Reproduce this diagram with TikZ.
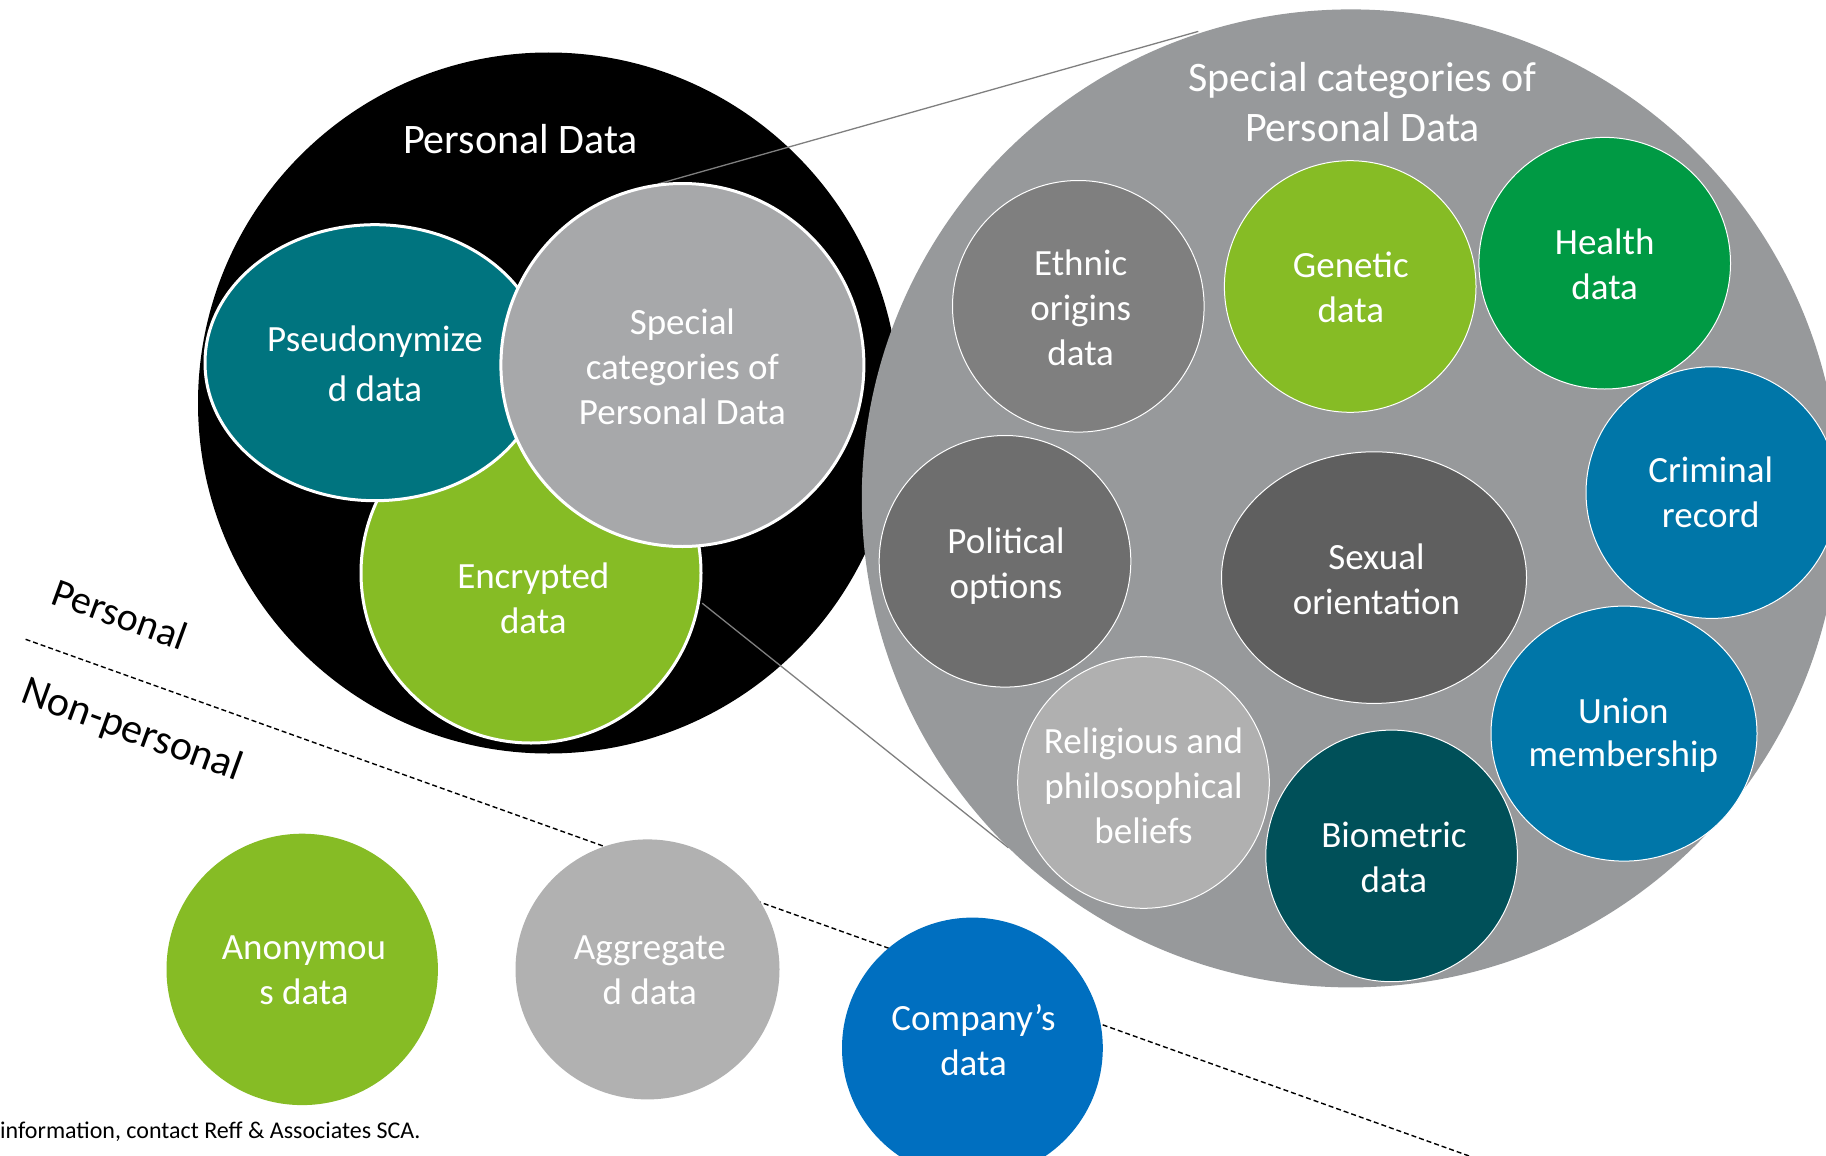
\documentclass[tikz,border=0pt]{standalone}
\usepackage{fontspec}
\setmainfont{Carlito}
\usetikzlibrary{shapes.geometric}
\definecolor{tealA}{HTML}{00747F}
\definecolor{grayS}{HTML}{A7A8AA}
\definecolor{greenA}{HTML}{86BC25}
\definecolor{grayB}{HTML}{97999B}
\definecolor{grayEth}{HTML}{7F7F7F}
\definecolor{grayPol}{HTML}{6E6E6E}
\definecolor{graySex}{HTML}{5F5F5F}
\definecolor{grayRel}{HTML}{B0B0B0}
\definecolor{healthG}{HTML}{009A44}
\definecolor{blueA}{HTML}{0076A8}
\definecolor{bioT}{HTML}{005059}
\definecolor{compB}{HTML}{006FC0}
\definecolor{aggG}{HTML}{B1B1B1}
\definecolor{lineG}{HTML}{7F7F7F}
\tikzset{
  disc/.style={circle, inner sep=0pt, outer sep=0pt, draw=white, line width=1pt},
  oval/.style={ellipse, inner sep=0pt, outer sep=0pt, draw=white, line width=1pt},
  rim/.style={line width=3pt},
  txt/.style={text=white, align=center, inner sep=0pt, font=\fontsize{37}{45}\selectfont},
  title/.style={text=white, align=center, inner sep=0pt, font=\fontsize{42}{50}\selectfont},
  side/.style={text=black, inner sep=0pt, font=\fontsize{40}{48}\selectfont, rotate=-20},
  zoomline/.style={draw=lineG, line width=1.3pt},
  divider/.style={draw=black, line width=1.4pt, dash pattern=on 5pt off 3pt}
}
\begin{document}
\begin{tikzpicture}[x=1pt, y=-1pt]
\useasboundingbox (0,0) rectangle (1826,1156);
\clip (0,0) rectangle (1826,1156);
% personal data
\node[circle, fill=black, inner sep=0pt, minimum size=701pt] (pd) at (548.5,403) {};
\coordinate (m1a) at (657.9,184);
\coordinate (m1b) at (1198.3,31.4);
\coordinate (m2a) at (702.2,603.2);
\coordinate (m2b) at (1008.5,847.8);
\draw[zoomline] (m1a) -- (m1b);
\draw[zoomline] (m2a) -- (m2b);
\node[disc, rim, fill=greenA, minimum size=340pt] (enc) at (531,573) {};
\node[oval, rim, fill=tealA, minimum width=340pt, minimum height=276pt] (pse) at (375,362.7) {};
\node[disc, rim, fill=grayS, minimum size=363pt] (spc) at (682.4,365) {};
% big zoom circle
\node[circle, fill=grayB, inner sep=0pt, minimum size=978pt] (big) at (1350.8,498.4) {};
\node[disc, fill=grayEth, minimum size=251.6pt] (eth) at (1078.3,306.3) {};
\node[disc, fill=greenA, minimum size=251.6pt] (gen) at (1350.2,286.5) {};
\node[disc, fill=healthG, minimum size=251.6pt] (hea) at (1604.7,263.2) {};
\node[disc, fill=blueA, minimum size=251.6pt] (cri) at (1711.8,492.6) {};
\node[disc, fill=grayPol, minimum size=251.6pt] (pol) at (1005,561.3) {};
\node[oval, fill=graySex, minimum width=305pt, minimum height=251.6pt] (sex) at (1374,577.6) {};
\node[disc, fill=grayRel, minimum size=251.6pt] (rel) at (1143.5,782.5) {};
\node[disc, fill=bioT, minimum size=251.6pt] (bio) at (1391.6,855.9) {};
\node[oval, fill=blueA, minimum width=266pt, minimum height=255pt] (uni) at (1624,733.6) {};
% divider
\coordinate (dva) at (25.6,639.3);
\coordinate (dvb) at (1472,1157);
\draw[divider] (dva) -- (dvb);
% non-personal circles
\node[circle, fill=greenA, inner sep=0pt, minimum size=271.4pt] (ano) at (302.2,969.4) {};
\node[ellipse, fill=aggG, inner sep=0pt, minimum width=264pt, minimum height=260pt] (agg) at (647.5,969.4) {};
\node[circle, fill=compB, inner sep=0pt, minimum size=260.8pt] (com) at (972.4,1048) {};
% texts
\node[title] (t-pd) at (520.5,138.6) {Personal Data};
\node[title] (t-big) at (1362.5,101.9) {Special categories of\\Personal Data};
\node[txt, font=\fontsize{37}{50}\selectfont] (t-pse) at (375,363.3) {Pseudonymize\\d data};
\node[txt] (t-spc) at (682.4,366.8) {Special\\categories of\\Personal Data};
\node[txt] (t-enc) at (533.3,598.6) {Encrypted\\data};
\node[txt] (t-eth) at (1080.7,307.4) {Ethnic\\origins\\data};
\node[txt] (t-gen) at (1350.8,287.6) {Genetic\\data};
\node[txt] (t-hea) at (1604.7,264.3) {Health\\data};
\node[txt] (t-cri) at (1710.7,492.6) {Criminal\\record};
\node[txt] (t-pol) at (1006,566) {Political\\options};
\node[txt] (t-sex) at (1376.4,578.8) {Sexual\\orientation};
\node[txt] (t-rel) at (1143.5,786) {Religious and\\philosophical\\beliefs};
\node[txt] (t-bio) at (1393.9,857) {Biometric\\data};
\node[txt, font=\fontsize{37}{43}\selectfont] (t-uni) at (1623.3,734.8) {Union\\membership};
\node[txt] (t-ano) at (304,970) {Anonymou\\s data};
\node[txt] (t-agg) at (649.8,970) {Aggregate\\d data};
\node[txt] (t-com) at (973.5,1040) {Company’s\\data};
\node[side] (t-per) at (120,614) {Personal};
\node[side, font=\fontsize{42}{50}\selectfont] (t-non) at (131.6,731) {Non-personal};
\node[anchor=west, inner sep=0pt, font=\fontsize{24}{28}\selectfont] (t-foot) at (0,1132) {information, contact Reff \& Associates SCA.};
\end{tikzpicture}
\end{document}
